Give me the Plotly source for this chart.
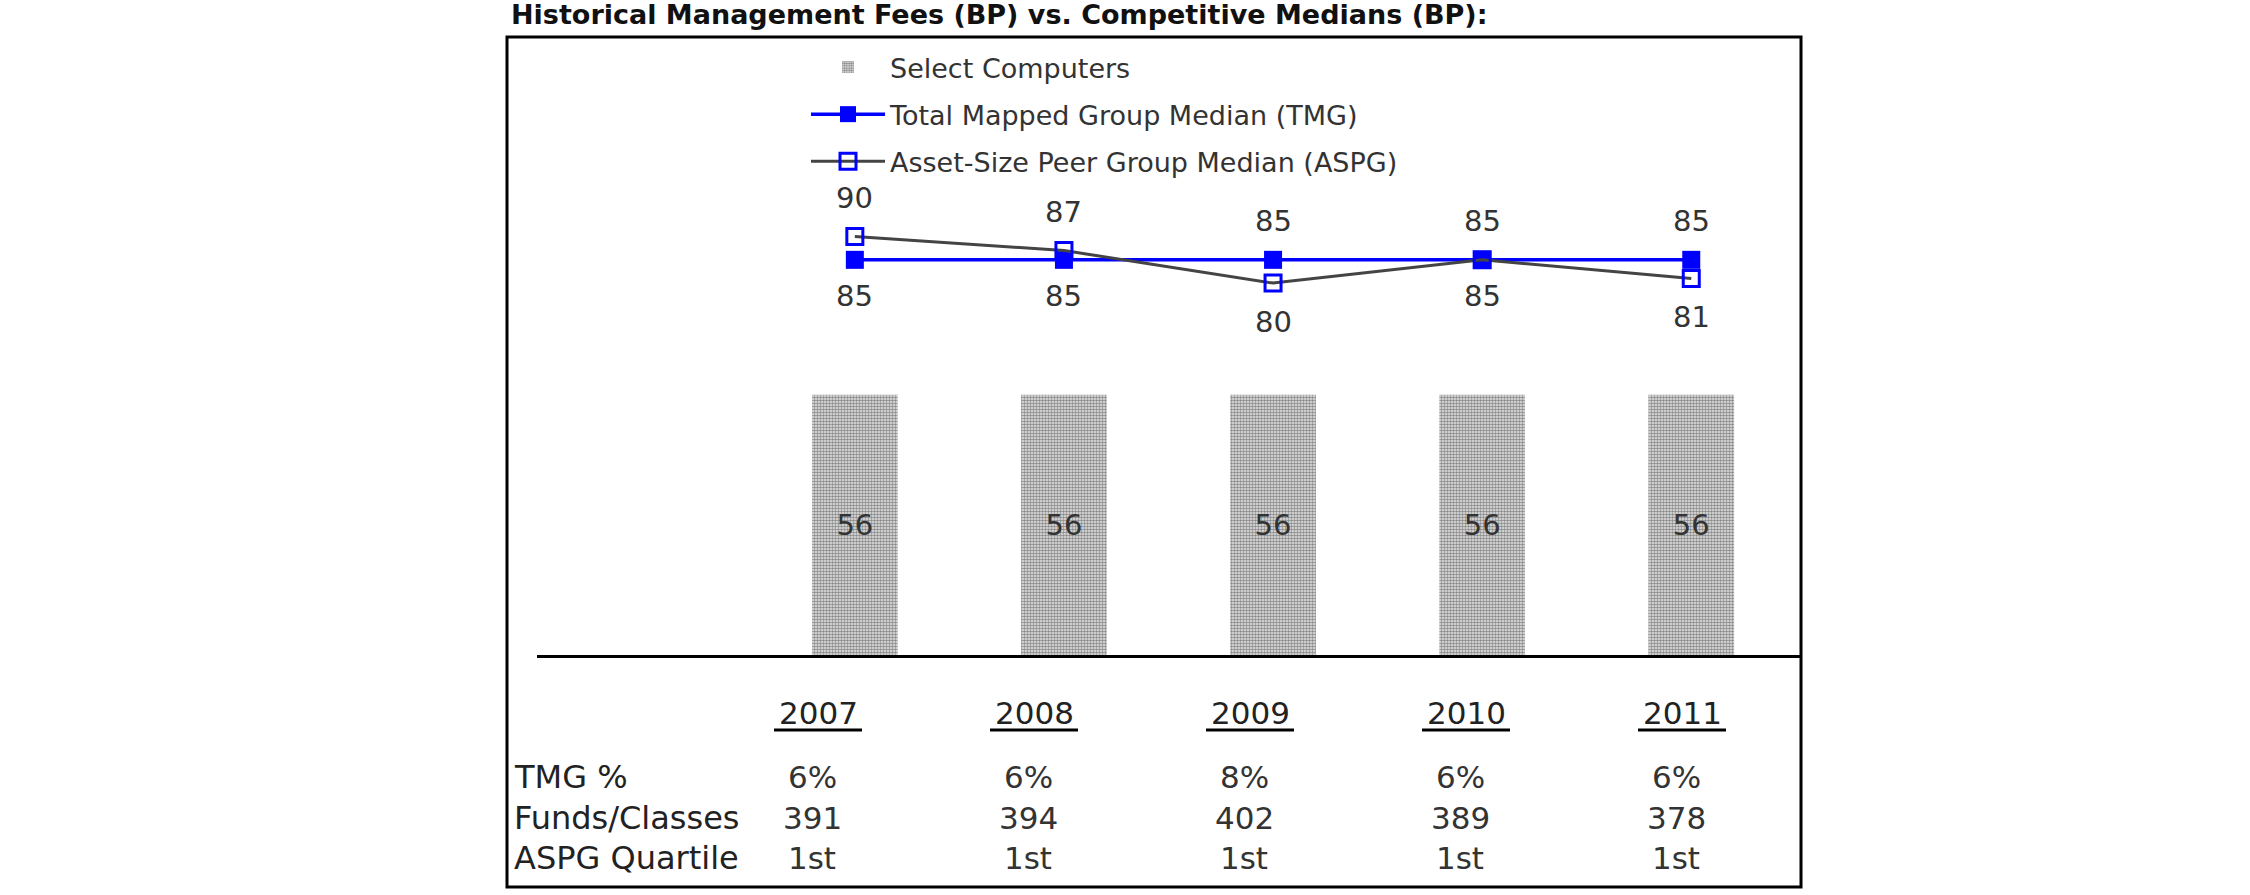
import plotly.graph_objects as go

# ---- data ----
years = ["2007", "2008", "2009", "2010", "2011"]
select_computers = [56, 56, 56, 56, 56]
tmg_median = [85, 85, 85, 85, 85]
aspg_median = [90, 87, 80, 85, 81]
tmg_pct = ["6%", "6%", "8%", "6%", "6%"]
funds_classes = ["391", "394", "402", "389", "378"]
aspg_quartile = ["1st", "1st", "1st", "1st", "1st"]
row_labels = ["TMG %", "Funds/Classes", "ASPG Quartile"]
title_text = "Historical Management Fees (BP) vs. Competitive Medians (BP):"

FONT = "DejaVu Sans"
W, H = 2250, 895
ML, MR, MT, MB = 537, 450, 39, 240
PW, PH = W - ML - MR, H - MT - MB


def px(xpix):
    return (xpix - ML) / PW


def py(ypix):
    return (H - MB - ypix) / PH


x_idx = list(range(len(years)))

fig = go.Figure()
fig.add_trace(go.Bar(
    x=x_idx, y=select_computers, name="Select Computers", width=0.41,
    legendgroup="g1",
    marker=dict(color="white", line=dict(width=0),
                pattern=dict(shape=".", fgcolor="#2a2a2a", bgcolor="#e8e8e8",
                             size=3, solidity=0.55)),
    text=[str(v) for v in select_computers], textposition="inside",
    insidetextanchor="middle", textangle=0, constraintext="none",
    textfont=dict(family=FONT, size=29, color="#333333"),
    hoverinfo="skip",
))
fig.add_trace(go.Scatter(
    x=x_idx, y=tmg_median, name="Total Mapped Group Median (TMG)",
    mode="lines+markers", legendgroup="g2",
    line=dict(color="#0000FF", width=3.5),
    marker=dict(symbol="square", size=18, color="#0000FF"),
))
fig.add_trace(go.Scatter(
    x=x_idx, y=aspg_median, name="Asset-Size Peer Group Median (ASPG)",
    mode="lines+markers", legendgroup="g3",
    line=dict(color="#444444", width=3),
    marker=dict(symbol="square-open", size=16, color="#0000FF",
                line=dict(width=3, color="#0000FF")),
))

annotations = []
# data labels: higher value above, lower below
for i in x_idx:
    t, a = tmg_median[i], aspg_median[i]
    a_above = a >= t
    annotations.append(dict(x=i, y=a, xref="x", yref="y", text=str(a), showarrow=False,
                            yshift=39 if a_above else -39,
                            font=dict(family=FONT, size=29, color="#333333")))
    annotations.append(dict(x=i, y=t, xref="x", yref="y", text=str(t), showarrow=False,
                            yshift=-36 if a_above else 39,
                            font=dict(family=FONT, size=29, color="#333333")))

# title
annotations.append(dict(x=px(509), y=py(14), xref="paper", yref="paper", xanchor="left",
                        yanchor="middle", text="<b>" + title_text + "</b>", showarrow=False,
                        font=dict(family=FONT, size=27, color="#111111")))

# table below the chart
col_x = [818 + 216 * i for i in x_idx]
row_y = [777, 818, 858]
rows = [tmg_pct, funds_classes, aspg_quartile]
shapes = []
for i, yr in enumerate(years):
    annotations.append(dict(x=px(col_x[i]), y=py(713), xref="paper", yref="paper",
                            text=yr, showarrow=False, xanchor="center", yanchor="middle",
                            font=dict(family=FONT, size=31, color="#222222")))
    shapes.append(dict(type="line", xref="paper", yref="paper",
                       x0=px(col_x[i] - 44), x1=px(col_x[i] + 44), y0=py(730), y1=py(730),
                       line=dict(color="black", width=3)))
for r, (lab, vals) in enumerate(zip(row_labels, rows)):
    annotations.append(dict(x=px(512), y=py(row_y[r]), xref="paper", yref="paper",
                            text=lab, showarrow=False, xanchor="left", yanchor="middle",
                            font=dict(family=FONT, size=32, color="#222222")))
    for i, v in enumerate(vals):
        annotations.append(dict(x=px(col_x[i] - 6), y=py(row_y[r]), xref="paper", yref="paper",
                                text=v, showarrow=False, xanchor="center", yanchor="middle",
                                font=dict(family=FONT, size=31, color="#333333")))

# outer frame
shapes.append(dict(type="rect", xref="paper", yref="paper", x0=px(507), x1=px(1801),
                   y0=py(887), y1=py(37), line=dict(color="black", width=3),
                   fillcolor="rgba(0,0,0,0)", layer="above"))

fig.update_layout(
    width=W, height=H, autosize=False,
    margin=dict(l=ML, r=MR, t=MT, b=MB, pad=0),
    paper_bgcolor="white", plot_bgcolor="white",
    showlegend=True,
    legend=dict(x=px(806), y=py(43), xanchor="left", yanchor="top",
                font=dict(family=FONT, size=27, color="#333333"),
                itemwidth=74, tracegroupgap=9, bgcolor="rgba(0,0,0,0)",
                borderwidth=0, traceorder="grouped"),
    xaxis=dict(range=[-1.52, 4.52], showgrid=False, zeroline=False, showticklabels=False,
               ticks="", showline=True, linecolor="black", linewidth=3, fixedrange=True),
    yaxis=dict(range=[0, 132.5], showgrid=False, zeroline=False, showticklabels=False,
               ticks="", showline=False, fixedrange=True),
    annotations=annotations, shapes=shapes,
    bargap=0.5,
)

fig.write_html("out.html", config={"displayModeBar": False})
